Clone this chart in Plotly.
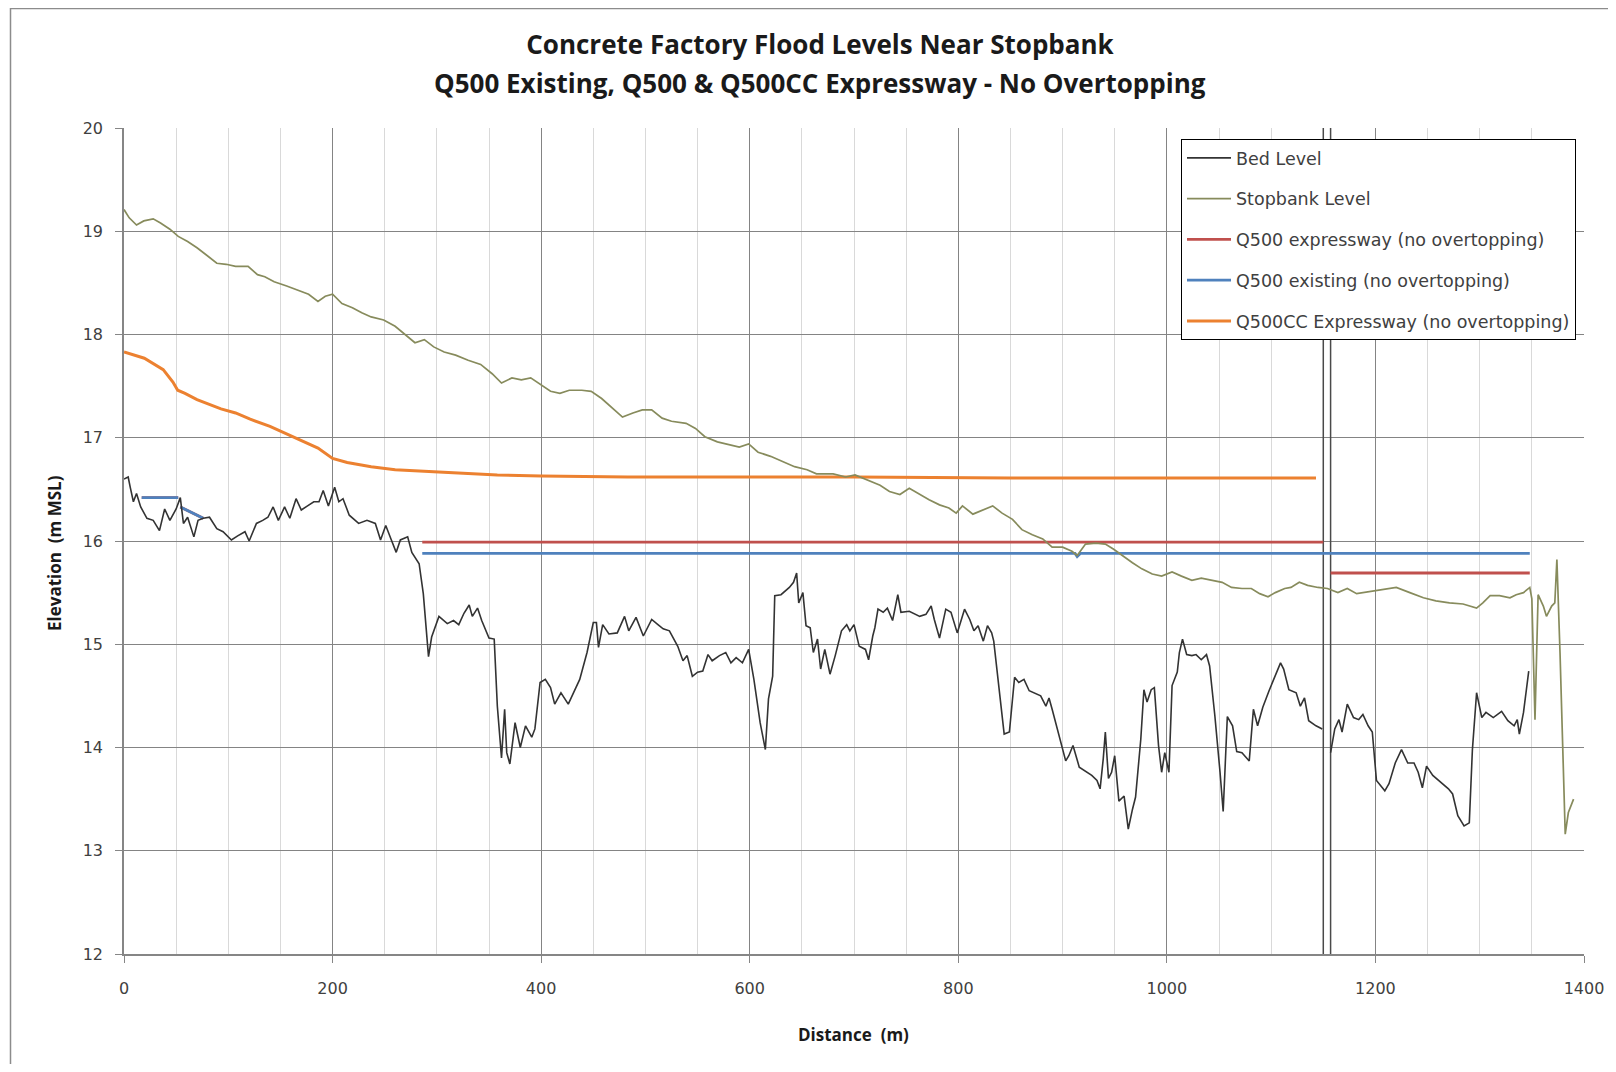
import plotly.graph_objects as go

# ---------------- data ----------------
bed_x = [0, 4, 6, 9, 12, 16, 22, 28, 34, 39, 44, 50, 54, 57, 61, 67, 71, 76, 82, 89, 95, 103, 109, 116, 120,
         127, 133, 138, 143, 148, 154, 159, 165, 170, 176, 182, 187, 191, 196, 202, 206, 210, 216, 225, 233,
         241, 246, 251, 256, 261, 265, 272, 276, 283, 287, 292, 295, 302, 310, 316, 321, 326, 331, 334, 339,
         343, 350, 355, 358, 362, 365, 367, 370, 375, 380, 385, 391, 394, 399, 404, 409, 413, 419, 426, 432,
         437, 444, 450, 453, 455, 459, 465, 473, 480, 484, 491, 498, 506, 512, 517, 523, 531, 536, 540, 545,
         550, 555, 560, 564, 571, 577, 582, 587, 593, 599, 604, 610, 615, 618, 622, 624, 630, 638, 642, 645,
         647, 651, 654, 658, 661, 665, 668, 672, 677, 682, 688, 693, 696, 700, 705, 711, 714, 718, 720, 723,
         728, 732, 737, 742, 745, 753, 763, 769, 774, 777, 782, 788, 793, 799, 806, 811, 815, 819, 824, 828,
         832, 834, 839, 844, 849, 854, 858, 863, 868, 874, 879, 884, 887, 890, 896, 903, 906, 910, 916, 922,
         928, 933, 936, 939, 941, 944, 947, 950, 954, 959, 963, 967, 970, 975, 978, 981, 985, 988, 992, 995,
         998, 1002, 1005, 1010, 1012, 1015, 1019, 1024, 1028, 1033, 1038, 1041, 1046, 1051, 1054, 1058, 1063,
         1067, 1072, 1079, 1083, 1087, 1092, 1098, 1104, 1109, 1112, 1117, 1124, 1128, 1132, 1136, 1143, 1149,
         None,
         1157, 1161, 1165, 1168, 1173, 1179, 1184, 1188, 1193, 1197, 1201, 1209, 1213, 1219, 1225, 1231, 1237,
         1241, 1245, 1249, 1255, 1263, 1270, 1274, 1279, 1285, 1290, 1293, 1297, 1302, 1306, 1313, 1321, 1327,
         1333, 1336, 1338, 1342, 1347]
bed_y = [16.6, 16.62, 16.52, 16.38, 16.46, 16.33, 16.22, 16.2, 16.1, 16.31, 16.2, 16.31, 16.42, 16.17, 16.23,
         16.04, 16.2, 16.22, 16.23, 16.12, 16.09, 16.01, 16.05, 16.09, 16.0, 16.17, 16.2, 16.23, 16.33, 16.2,
         16.33, 16.22, 16.41, 16.3, 16.34, 16.38, 16.38, 16.49, 16.34, 16.52, 16.38, 16.41, 16.25, 16.17, 16.2,
         16.17, 16.01, 16.15, 16.02, 15.89, 16.01, 16.04, 15.89, 15.78, 15.49, 14.88, 15.07, 15.27, 15.2, 15.23,
         15.19, 15.3, 15.38, 15.27, 15.35, 15.23, 15.06, 15.05, 14.4, 13.9, 14.37, 13.95, 13.84, 14.24, 14.0,
         14.21, 14.1, 14.18, 14.63, 14.66, 14.58, 14.42, 14.53, 14.42, 14.55, 14.66, 14.92, 15.21, 15.21, 14.97,
         15.19, 15.1, 15.11, 15.27, 15.13, 15.26, 15.08, 15.24, 15.19, 15.15, 15.13, 14.98, 14.84, 14.89, 14.69,
         14.73, 14.74, 14.9, 14.84, 14.89, 14.92, 14.82, 14.87, 14.82, 14.95, 14.66, 14.24, 13.98, 14.47, 14.69,
         15.47, 15.48, 15.55, 15.6, 15.69, 15.4, 15.5, 15.18, 15.16, 14.92, 15.05, 14.76, 14.95, 14.71, 14.89,
         15.13, 15.19, 15.13, 15.19, 14.98, 14.95, 14.85, 15.08, 15.16, 15.34, 15.31, 15.35, 15.23, 15.48, 15.31,
         15.32, 15.27, 15.29, 15.37, 15.24, 15.06, 15.34, 15.31, 15.11, 15.34, 15.24, 15.13, 15.18, 15.03, 15.18,
         15.11, 15.03, 14.56, 14.13, 14.15, 14.68, 14.63, 14.66, 14.55, 14.52, 14.5, 14.4, 14.48, 14.37, 14.15,
         13.87, 13.92, 14.02, 13.81, 13.77, 13.73, 13.68, 13.6, 13.89, 14.15, 13.7, 13.76, 13.92, 13.48, 13.53,
         13.21, 13.4, 13.52, 14.08, 14.56, 14.44, 14.56, 14.58, 14.02, 13.76, 13.95, 13.76, 14.6, 14.73, 14.92,
         15.05, 14.9, 14.89, 14.9, 14.85, 14.9, 14.79, 14.31, 13.76, 13.38, 14.3, 14.21, 13.96, 13.95, 13.87,
         14.37, 14.21, 14.39, 14.55, 14.69, 14.82, 14.76, 14.56, 14.53, 14.4, 14.48, 14.26, 14.21, 14.18,
         None,
         13.95, 14.18, 14.27, 14.15, 14.42, 14.29, 14.27, 14.32, 14.21, 14.15, 13.68, 13.58, 13.65, 13.85, 13.98,
         13.85, 13.85, 13.76, 13.61, 13.82, 13.73, 13.66, 13.6, 13.55, 13.34, 13.24, 13.27, 13.98, 14.53, 14.29,
         14.34, 14.29, 14.35, 14.26, 14.21, 14.27, 14.13, 14.34, 14.74]

stopbank_x = [0, 5, 12, 19, 28, 35, 44, 52, 61, 70, 79, 89, 98, 107, 119, 128, 135, 144, 156, 168, 177, 186,
              193, 200, 209, 219, 228, 237, 249, 260, 270, 279, 288, 297, 307, 318, 330, 342, 353, 362, 372,
              381, 390, 400, 409, 418, 427, 439, 448, 458, 469, 478, 488, 497, 506, 516, 525, 539, 548, 557,
              569, 581, 590, 599, 608, 620, 632, 643, 655, 664, 680, 692, 701, 713, 725, 734, 744, 753, 763,
              772, 782, 791, 798, 804, 814, 823, 833, 842, 852, 861, 871, 881, 890, 900, 909, 914, 922, 932,
              941, 949, 957, 967, 976, 986, 995, 1005, 1014, 1024, 1033, 1043, 1053, 1062, 1072, 1081, 1089,
              1097, 1104, 1113, 1119, 1127, 1135, 1145, 1154, 1164, 1173, 1182, 1188, 1204, 1220, 1233, 1246,
              1258, 1271, 1284, 1297, 1303, 1310, 1319, 1329, 1335, 1342, 1348, 1350, 1353, 1356, 1361, 1364,
              1369, 1372, 1374, 1377, 1382, 1385, 1390]
stopbank_y = [19.21, 19.13, 19.06, 19.1, 19.12, 19.08, 19.02, 18.95, 18.9, 18.84, 18.77, 18.69, 18.68, 18.66,
              18.66, 18.58, 18.56, 18.51, 18.47, 18.42, 18.39, 18.32, 18.37, 18.39, 18.3, 18.26, 18.21, 18.17,
              18.14, 18.08, 18.0, 17.92, 17.95, 17.88, 17.83, 17.8, 17.75, 17.71, 17.62, 17.53, 17.58, 17.56,
              17.58, 17.51, 17.45, 17.43, 17.46, 17.46, 17.45, 17.38, 17.28, 17.2, 17.24, 17.27, 17.27, 17.19,
              17.16, 17.14, 17.09, 17.01, 16.96, 16.93, 16.91, 16.94, 16.86, 16.82, 16.77, 16.72, 16.69, 16.65,
              16.65, 16.62, 16.64, 16.59, 16.54, 16.48, 16.45, 16.51, 16.45, 16.4, 16.35, 16.32, 16.27, 16.34,
              16.26, 16.3, 16.34, 16.27, 16.21, 16.11, 16.06, 16.02, 15.94, 15.94, 15.9, 15.86, 15.97, 15.98,
              15.97, 15.92, 15.86, 15.79, 15.73, 15.68, 15.66, 15.7, 15.66, 15.62, 15.64, 15.62, 15.6, 15.55,
              15.54, 15.54, 15.49, 15.46, 15.5, 15.54, 15.55, 15.6, 15.57, 15.55, 15.54, 15.5, 15.54, 15.49,
              15.5, 15.53, 15.55, 15.5, 15.45, 15.42, 15.4, 15.39, 15.35, 15.4, 15.47, 15.47, 15.45, 15.48,
              15.5, 15.55, 15.44, 14.27, 15.48, 15.37, 15.27, 15.37, 15.4, 15.82, 14.92, 13.16, 13.37, 13.5]

q500_expressway_x = [17, 52, None, 54, 76, None, 286, 1150, None, 1157, 1348]
q500_expressway_y = [16.42, 16.42, None, 16.33, 16.22, None, 15.99, 15.99, None, 15.69, 15.69]

q500_existing_x = [17, 52, None, 54, 76, None, 286, 912, 914, 917, 1348]
q500_existing_y = [16.42, 16.42, None, 16.33, 16.22, None, 15.88, 15.88, 15.85, 15.88, 15.88]

q500cc_x = [0, 19.5, 37.6, 46.9, 51.5, 58.5, 70, 93, 107, 121, 140, 158, 172, 186, 200, 214, 237, 260, 297,
            330, 358, 400, 483, 700, 850, 1143]
q500cc_y = [17.83, 17.77, 17.66, 17.54, 17.46, 17.43, 17.37, 17.28, 17.24, 17.18, 17.11, 17.03, 16.96, 16.9,
            16.8, 16.76, 16.72, 16.69, 16.67, 16.65, 16.64, 16.63, 16.62, 16.62, 16.61, 16.61]

section_break_x = [1150, 1150, None, 1157, 1157]
section_break_y = [12, 20, None, 12, 20]

title_line1 = "Concrete Factory Flood Levels Near Stopbank"
title_line2 = "Q500 Existing, Q500 & Q500CC Expressway - No Overtopping"
x_title = "Distance  (m)"
y_title = "Elevation  (m MSL)"

# ---------------- figure ----------------
W, H = 1600, 1056          # page body adds an 8 px margin
ML, MR, MT, MB = 116, 24, 120, 110
PW, PH = W - ML - MR, H - MT - MB


def px_x(fx):
    return (fx - ML) / PW


def px_y(fy):
    return (H - MB - fy) / PH


fig = go.Figure()

fig.add_trace(go.Scatter(x=section_break_x, y=section_break_y, mode="lines",
                         line=dict(color="#4a4a4a", width=1.5), showlegend=False, hoverinfo="skip"))
fig.add_trace(go.Scatter(x=q500_expressway_x, y=q500_expressway_y, mode="lines",
                         name="Q500 expressway (no overtopping)", legendrank=3, legendgroup="c",
                         line=dict(color="#c0504d", width=2.8)))
fig.add_trace(go.Scatter(x=q500_existing_x, y=q500_existing_y, mode="lines",
                         name="Q500 existing (no overtopping)", legendrank=4, legendgroup="d",
                         line=dict(color="#4f81bd", width=2.8)))
fig.add_trace(go.Scatter(x=q500cc_x, y=q500cc_y, mode="lines",
                         name="Q500CC Expressway (no overtopping)", legendrank=5, legendgroup="e",
                         line=dict(color="#ec8130", width=3)))
fig.add_trace(go.Scatter(x=bed_x, y=bed_y, mode="lines", name="Bed Level", legendrank=1, legendgroup="a",
                         line=dict(color="#333333", width=1.6)))
fig.add_trace(go.Scatter(x=stopbank_x, y=stopbank_y, mode="lines", name="Stopbank Level", legendrank=2,
                         legendgroup="b", line=dict(color="#878b5c", width=1.7)))

tick_font = dict(family="DejaVu Sans", size=16, color="#404040")
title_font = dict(family="Open Sans", size=26, color="#1a1a1a")
axis_title_font = dict(family="Open Sans", size=17, color="#1a1a1a")

fig.update_layout(
    width=W, height=H,
    margin=dict(l=ML, r=MR, t=MT, b=MB, autoexpand=False),
    paper_bgcolor="white", plot_bgcolor="white",
    showlegend=True,
    legend=dict(x=px_x(1568), xanchor="right", y=px_y(131), yanchor="top",
                bgcolor="white", bordercolor="black", borderwidth=1,
                font=dict(family="DejaVu Sans", size=17.5, color="#404040"),
                traceorder="grouped", tracegroupgap=15, itemwidth=44),
    title=dict(text="<b>" + title_line1 + "</b>", x=px_x(812), xanchor="center", xref="paper",
               y=1 - 37 / H, yanchor="middle", font=title_font, automargin=False),
    annotations=[
        dict(text="<b>" + title_line2 + "</b>", xref="paper", yref="paper", x=px_x(812), y=px_y(75),
             xanchor="center", yanchor="middle", showarrow=False, font=title_font),
        dict(text="<b>" + x_title + "</b>", xref="paper", yref="paper", x=px_x(845), y=px_y(1026),
             xanchor="center", yanchor="middle", showarrow=False, font=axis_title_font),
        dict(text="<b>" + y_title + "</b>", xref="paper", yref="paper", x=px_x(46),
             y=px_y(545), xanchor="center", yanchor="middle", showarrow=False, textangle=-90,
             font=axis_title_font),
    ],
    shapes=[dict(type="rect", xref="paper", yref="paper",
                 x0=px_x(2.5), x1=px_x(W + 20),
                 y0=px_y(H + 20), y1=px_y(0.5),
                 line=dict(color="#8c8c8c", width=1.5), fillcolor="rgba(0,0,0,0)", layer="below")],
)

fig.update_xaxes(range=[0, 1400], dtick=200, tick0=0, showgrid=True, gridcolor="#848484", gridwidth=1,
                 minor=dict(dtick=50, showgrid=True, gridcolor="#d9d9d9", gridwidth=1),
                 showline=True, linecolor="#868686", linewidth=2, ticks="outside", ticklen=7,
                 tickcolor="#868686", zeroline=False, tickfont=tick_font, ticklabelstandoff=12,
                 automargin=False)
fig.update_yaxes(range=[12, 20], dtick=1, tick0=12, showgrid=True, gridcolor="#848484", gridwidth=1,
                 showline=True, linecolor="#868686", linewidth=1.5, ticks="outside", ticklen=7,
                 tickcolor="#868686", zeroline=False, tickfont=tick_font, ticklabelstandoff=9,
                 automargin=False)

fig.write_html("out.html")
